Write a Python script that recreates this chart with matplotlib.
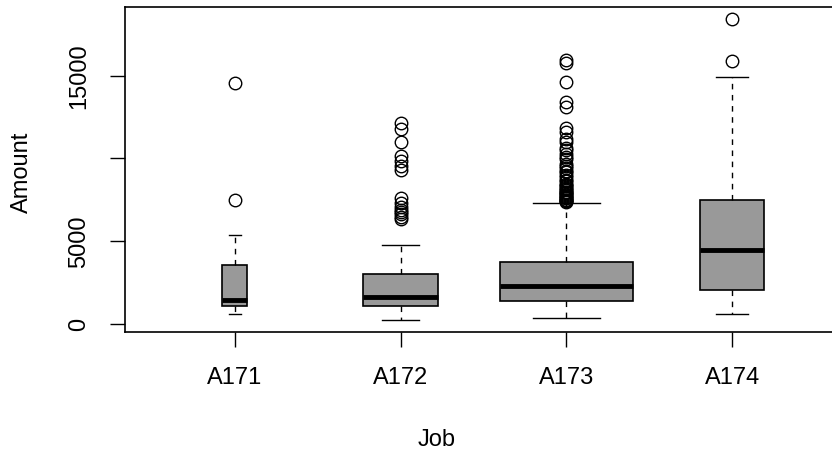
import numpy as np
import matplotlib.pyplot as plt

plt.rcParams['font.family'] = ['Liberation Sans', 'DejaVu Sans']

jobs = ['A171', 'A172', 'A173', 'A174']
counts = [22, 200, 630, 148]
q1 = [1050, 1091, 1350, 2060]
med = [1412, 1594, 2300, 4442]
q3 = [3576, 3030, 3715, 7473]
whislo = [588, 250, 345, 588]
whishi = [5352, 4788, 7315, 14890]
fliers_a171 = [7455, 14545]
fliers_a172 = [12169, 11760, 10961, 10127, 9857, 9566, 9271,
               7596, 7308, 7057, 6850, 6761, 6615, 6468, 6361]
fliers_a173 = [15945, 15750, 14590, 13380, 13080, 11860, 11590, 11150, 10970,
               10650, 10477, 10240, 10097, 9940, 9683, 9530, 9398, 9230, 9157,
               8978, 8858, 8720, 8613, 8471, 8386, 8318, 8229, 8133, 8072,
               7980, 7966, 7882, 7824, 7763, 7721, 7685, 7596, 7582, 7511,
               7476, 7432, 7408, 7393]
fliers_a174 = [15897, 18424]
all_fliers = [fliers_a171, fliers_a172, fliers_a173, fliers_a174]

stats = []
for i in range(len(jobs)):
    stats.append(dict(label=jobs[i], q1=q1[i], med=med[i], q3=q3[i],
                      whislo=whislo[i], whishi=whishi[i], fliers=all_fliers[i]))

# varwidth: proportional to sqrt(n)
widths = [0.8 * np.sqrt(n / max(counts)) for n in counts]

W, H = 832, 452
fig = plt.figure(figsize=(W / 100, H / 100), dpi=100)
ax = fig.add_axes([125.3 / W, (H - 332.7) / H, 716.5 / W, 324.7 / H])

ax.bxp(stats, positions=[1, 2, 3, 4], widths=widths, capwidths=[w / 2 for w in widths],
       patch_artist=True,
       boxprops=dict(facecolor='#999999', edgecolor='black', linewidth=1.2),
       medianprops=dict(color='black', linewidth=3.5, solid_capstyle='butt'),
       whiskerprops=dict(color='black', linewidth=1.0, linestyle=(0, (4, 4))),
       capprops=dict(color='black', linewidth=1.0),
       flierprops=dict(marker='o', markerfacecolor='none', markeredgecolor='black',
                       markersize=9, markeredgewidth=1.0))

ax.set_xlim(0.34, 4.66)
ax.set_ylim(-477, 19151)
ax.set_yticks([0, 5000, 10000, 15000])
ax.set_yticklabels(['0', '5000', '', '15000'], rotation=90, va='center')
ax.set_xticks([1, 2, 3, 4])
ax.set_xticklabels(jobs)
ax.tick_params(labelsize=17, length=11, width=1, pad=14)
for s in ax.spines.values():
    s.set_linewidth(1.2)

fig.text(22 / W, 1 - 172 / H, 'Amount', rotation=90, ha='center', va='center', fontsize=17)
fig.text(437 / W, 1 - 440 / H, 'Job', ha='center', va='center', fontsize=17)

fig.savefig('out.png', dpi=100)
